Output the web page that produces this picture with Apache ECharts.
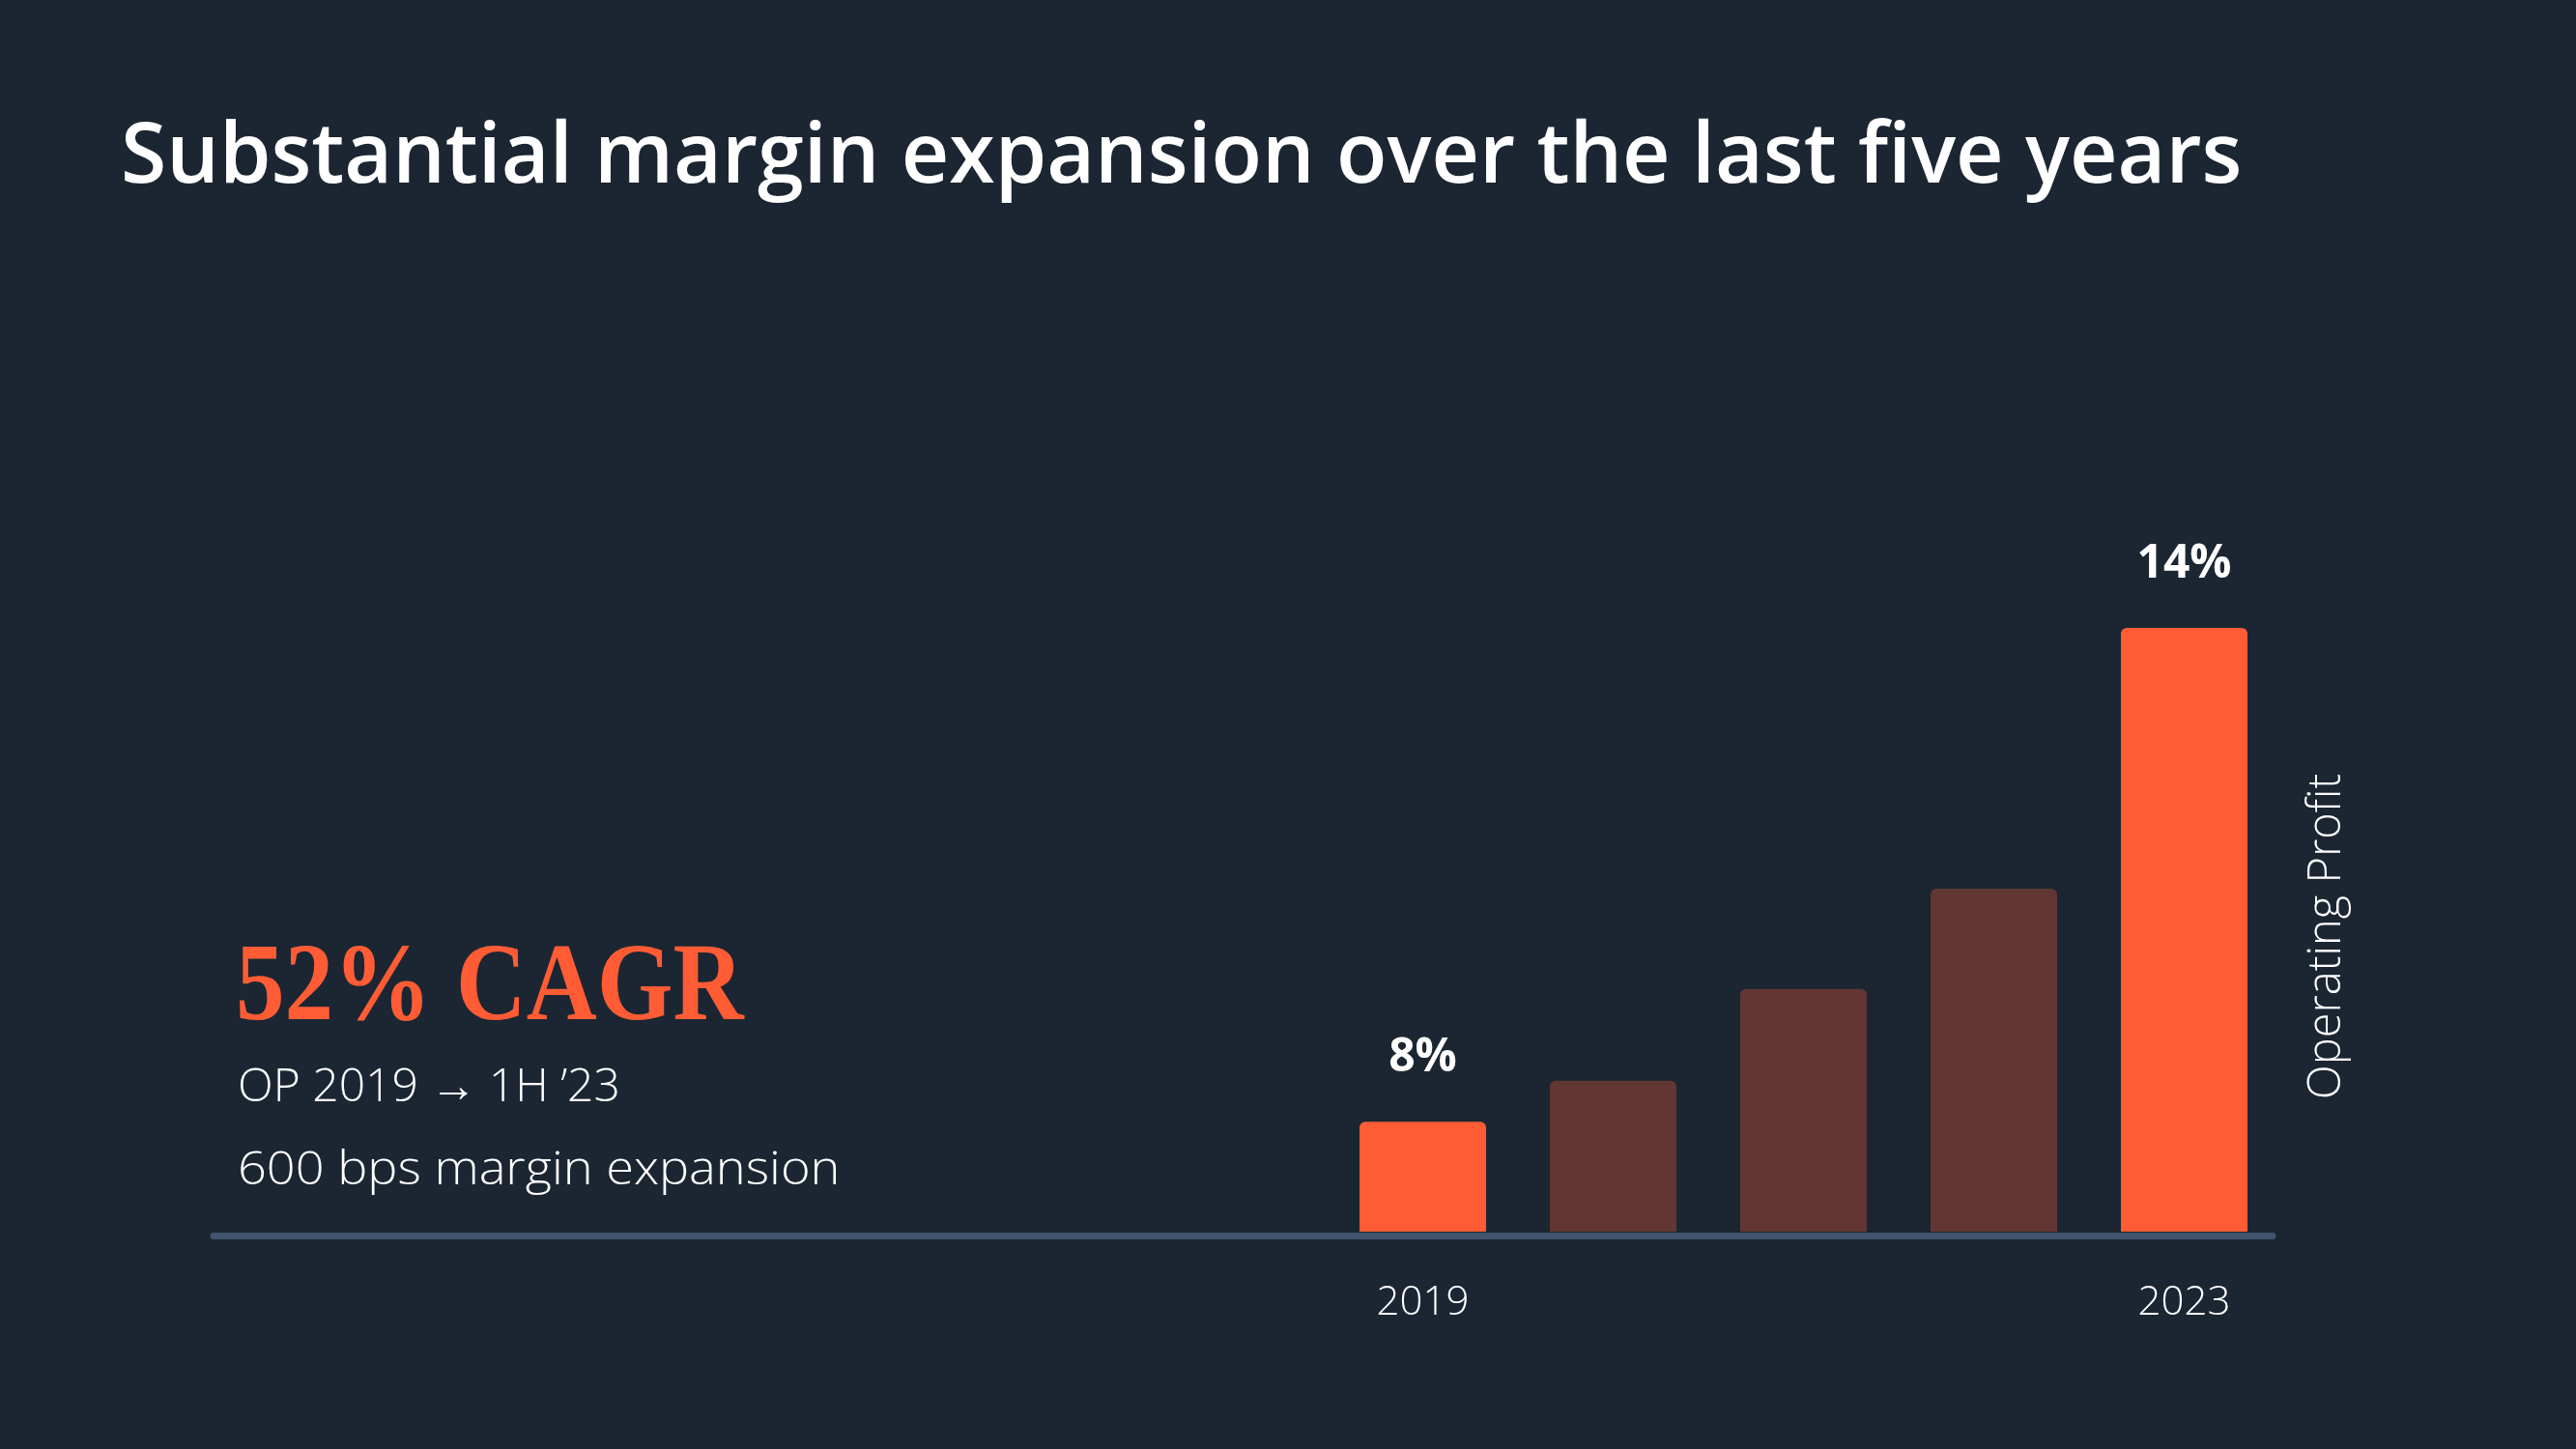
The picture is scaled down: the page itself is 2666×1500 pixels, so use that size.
<!DOCTYPE html>
<html>
<head>
<meta charset="utf-8">
<script src="https://cdn.jsdelivr.net/npm/echarts@6/dist/echarts.min.js"></script>
<style>
  html, body { margin: 0; padding: 0; background: #1b2632; }
  #main { width: 2666px; height: 1500px; }
</style>
</head>
<body>
<div id="main"></div>
<script>
// 数据
var years = ["2019", "2020", "2021", "2022", "2023"];
var yearTicks = ["2019", "", "", "", "2023"];
// operating profit, indexed to 2023 = 100
var operatingProfit = [18.2, 25.0, 40.2, 56.8, 100];
var marginLabels = ["8%", "", "", "", "14%"];
var highlighted = [true, false, false, false, true];

(function () {
  var myChart = echarts.init(document.getElementById("main"));

  var orange = "#ff5c35";
  var brown = "#623633";

  var barData = operatingProfit.map(function (v, i) {
    return {
      value: v,
      itemStyle: { color: highlighted[i] ? orange : brown }
    };
  });

  var option = {
    backgroundColor: "#1b2632",
    animation: false,
    title: {
      text: "Substantial margin expansion over the last five years",
      left: 120,
      top: 116,
      textStyle: {
        color: "#ffffff",
        fontFamily: "Open Sans",
        fontWeight: 600,
        fontSize: 86
      }
    },
    grid: [
      // 柱子所在的网格
      { left: 1374, right: 307, top: 650, bottom: 225 },
      // 只用来画底部那条长的轴线
      { left: 221, right: 314, bottom: 221, height: 10 }
    ],
    xAxis: [
      {
        type: "category",
        gridIndex: 0,
        data: years,
        axisLine: { show: false },
        axisTick: { show: false },
        axisLabel: {
          color: "#ffffff",
          fontFamily: "Open Sans",
          fontWeight: 300,
          fontSize: 42,
          margin: 53,
          interval: 0,
          formatter: function (val, idx) {
            return yearTicks[idx];
          }
        }
      },
      {
        type: "value",
        gridIndex: 1,
        min: 0,
        max: 1,
        axisLine: { show: true, lineStyle: { color: "#40546d", width: 7 } },
        axisTick: { show: false },
        axisLabel: { show: false },
        splitLine: { show: false }
      }
    ],
    yAxis: [
      {
        type: "value",
        gridIndex: 0,
        position: "right",
        min: 0,
        max: 100,
        name: "Operating Profit",
        nameLocation: "middle",
        nameRotate: 90,
        nameGap: 26,
        nameTextStyle: {
          color: "#ffffff",
          fontFamily: "Open Sans",
          fontWeight: 300,
          fontSize: 47,
          padding: [0, 14, 0, 0]
        },
        axisLine: { show: false },
        axisTick: { show: false },
        axisLabel: { show: false },
        splitLine: { show: false }
      },
      {
        type: "value",
        gridIndex: 1,
        show: false
      }
    ],
    series: [
      {
        type: "bar",
        xAxisIndex: 0,
        yAxisIndex: 0,
        data: barData,
        barWidth: 131,
        itemStyle: { borderRadius: [6, 6, 0, 0] },
        label: {
          show: true,
          position: "top",
          distance: 42,
          color: "#ffffff",
          fontFamily: "Open Sans",
          fontWeight: 700,
          fontSize: 48,
          formatter: function (p) {
            return marginLabels[p.dataIndex];
          }
        }
      }
    ],
    graphic: [
      {
        type: "text",
        left: 244,
        top: 968,
        scaleX: 0.88,
        style: {
          text: "52% CAGR",
          fill: orange,
          font: "bold 115px 'Liberation Serif'"
        }
      },
      {
        type: "text",
        left: 246,
        top: 1102,
        style: {
          text: "OP 2019 \u2192 1H \u201923",
          fill: "#ffffff",
          font: "300 48px 'Open Sans'"
        }
      },
      {
        type: "text",
        left: 246,
        top: 1188,
        scaleX: 1.09,
        style: {
          text: "600 bps margin expansion",
          fill: "#ffffff",
          font: "300 48px 'Open Sans'"
        }
      }
    ]
  };

  myChart.setOption(option);
  window.addEventListener("resize", function () {
    myChart.resize();
  });
})();
</script>
</body>
</html>
